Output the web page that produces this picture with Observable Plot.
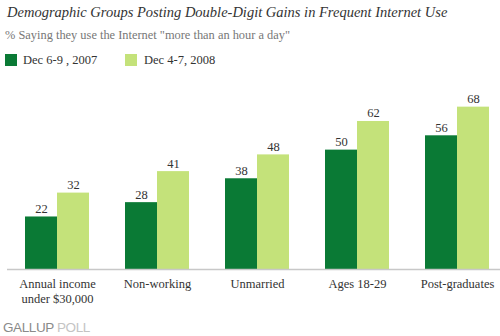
<!DOCTYPE html>
<html><head><meta charset="utf-8">
<script src="https://cdn.jsdelivr.net/npm/d3@7"></script>
<script src="https://cdn.jsdelivr.net/npm/@observablehq/plot@0.6"></script>
<style>
body{margin:0;background:#fff;width:500px;height:336px;position:relative;overflow:hidden;font-family:"Liberation Serif",serif}
.t{position:absolute;white-space:nowrap;line-height:1}
.sw{position:absolute;width:12px;height:12px}
</style></head><body>
<div class="t" id="title" style="left:7px;top:5px;font-size:14.5px;font-style:italic;color:#333"></div>
<div class="t" id="subtitle" style="left:5px;top:29px;font-size:12.4px;color:#777"></div>
<div class="sw" id="sw0" style="left:5px;top:54px"></div>
<div class="t" id="lg0" style="left:23px;top:54px;font-size:12.5px;color:#333"></div>
<div class="sw" id="sw1" style="left:125px;top:54px"></div>
<div class="t" id="lg1" style="left:144px;top:54px;font-size:12.5px;color:#333"></div>
<div id="chart" style="position:absolute;left:0;top:70px"></div>
<div class="t" style="left:3px;top:321px;font-family:'Liberation Sans',sans-serif;font-size:13.5px;letter-spacing:-0.4px"><span style="color:#8a8a8a">GALLUP</span> <span style="color:#c4c4c4">POLL</span></div>
<script>
const title = "Demographic Groups Posting Double-Digit Gains in Frequent Internet Use";
const subtitle = "% Saying they use the Internet \"more than an hour a day\"";
const categories = ["Annual income under $30,000", "Non-working", "Unmarried", "Ages 18-29", "Post-graduates"];
const categoryLabels = ["Annual income\nunder $30,000", "Non-working", "Unmarried", "Ages 18-29", "Post-graduates"];
const series = ["Dec 6-9 , 2007", "Dec 4-7, 2008"];
const values2007 = [22, 28, 38, 50, 56];
const values2008 = [32, 41, 48, 62, 68];
const colors = ["#0a7a35", "#c4e27a"];

document.getElementById("title").textContent = title;
document.getElementById("subtitle").textContent = subtitle;
document.getElementById("lg0").textContent = series[0];
document.getElementById("lg1").textContent = series[1];
document.getElementById("sw0").style.background = colors[0];
document.getElementById("sw1").style.background = colors[1];

const data = categories.flatMap((c, i) => [
  {category: c, series: series[0], value: values2007[i]},
  {category: c, series: series[1], value: values2008[i]}
]);
const labelOf = new Map(categories.map((c, i) => [c, categoryLabels[i]]));

const plot = Plot.plot({
  width: 500, height: 240,
  marginLeft: 14, marginRight: 0, marginTop: 8, marginBottom: 41,
  style: {fontFamily: "Liberation Serif", background: "transparent"},
  fx: {domain: categories, paddingInner: 0, paddingOuter: -0.082, axis: null, label: null},
  x: {domain: series, paddingInner: 0, paddingOuter: 0.523, axis: null},
  y: {domain: [0, 80], axis: null},
  color: {domain: series, range: colors},
  marks: [
    Plot.barY(data, {fx: "category", x: "series", y: "value", fill: "series", inset: 0}),
    Plot.ruleY([0], {stroke: "#c8c8c8", strokeWidth: 1.5}),
    Plot.text(data, {fx: "category", x: "series", y: "value", text: d => String(d.value), dy: -8, fontSize: 12.5, fill: "#333"}),
    Plot.text(categories, {fx: d => d, text: d => labelOf.get(d), frameAnchor: "bottom", lineAnchor: "top", dy: 8, lineHeight: 1.2, fontSize: 12.5, fill: "#333"})
  ]
});
document.getElementById("chart").appendChild(plot);
</script>
</body></html>
